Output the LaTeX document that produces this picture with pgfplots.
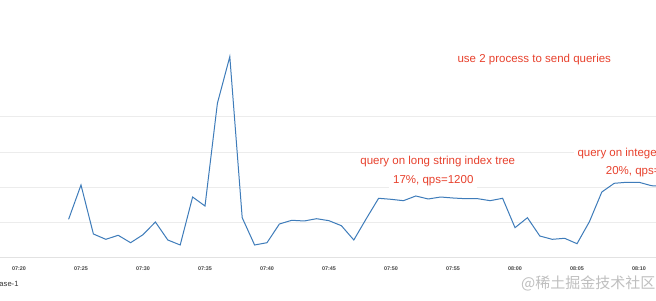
\documentclass[border=0pt]{standalone}
\usepackage{pgfplots}
\pgfplotsset{compat=1.18}
\usepackage{fontspec}
\setmainfont{Liberation Sans}
\newfontfamily\cjk{Noto Sans CJK SC}
\definecolor{ann}{RGB}{232,66,46}
\definecolor{ser}{RGB}{62,124,186}
\definecolor{grd}{RGB}{236,236,236}
\definecolor{basec}{RGB}{226,226,226}
\definecolor{tickc}{RGB}{70,70,70}
\begin{document}
\begin{tikzpicture}[x=1pt,y=1pt]
\path[use as bounding box] (0,0) rectangle (656,300);
\clip (0,0) rectangle (656,300);
\fill[white] (0,0) rectangle (656,300);
\begin{axis}[
  at={(0pt,42pt)}, anchor=south west, scale only axis,
  width=656pt, height=258pt,
  xmin=-1.532, xmax=51.37, ymin=0, ymax=7.319,
  axis line style={draw=none},
  major tick length=0,
  ytick={1,2,3,4}, yticklabels={},
  ymajorgrids, grid style={grd, line width=1pt},
  xtick={0,5,...,50},
  xticklabels={07:20,07:25,07:30,07:35,07:40,07:45,07:50,07:55,08:00,08:05,08:10},
  xticklabel style={anchor=center, yshift=-11pt, font=\fontsize{5.4}{6}\selectfont\bfseries, text=tickc},
]
\draw[basec, line width=2pt] (axis cs:-3,0) -- (axis cs:53,0);
\addplot[ser, line width=1pt, mark=none] coordinates {
(4,1.098) (5,2.071) (6,0.681) (7,0.530) (8,0.644) (9,0.434) (10,0.661)
(11,1.021) (12,0.511) (13,0.369) (14,1.730) (15,1.475) (16,4.389) (17,5.711)
(18,1.143) (19,0.369) (20,0.434) (21,0.965) (22,1.070) (23,1.050) (24,1.115)
(25,1.058) (26,0.916) (27,0.511) (28,1.112) (29,1.694) (30,1.665) (31,1.626)
(32,1.759) (33,1.674) (34,1.730) (35,1.702) (36,1.682) (37,1.682) (38,1.626)
(39,1.694) (40,0.860) (41,1.143) (42,0.624) (43,0.530) (44,0.559) (45,0.406)
(46,1.030) (47,1.872) (48,2.119) (49,2.148) (50,2.148) (51,2.051) (52,2.030)
};
\end{axis}
\begin{scope}[every node/.style={text=ann, font=\fontsize{11.5}{13}\selectfont, fill=white, inner sep=4pt}]
\node[anchor=base] at (534.3,237.3) {use 2 process to send queries};
\node[anchor=base] at (437.8,135) {query on long string index tree};
\node[anchor=base] at (433.3,116.7) {17\%, qps=1200};
\node[anchor=base west] at (573.3,143.3) {query on integer index tree};
\node[anchor=base west] at (601.7,125) {20\%, qps=1400};
\end{scope}
\node[anchor=base east, inner sep=0, font=\fontsize{7.6}{8}\selectfont, text=black!80] at (18.7,14) {base-1};
\node[anchor=west, inner sep=0, font=\cjk\fontsize{15}{16}\selectfont, text=black!25] at (521,17) {@稀土掘金技术社区};
\end{tikzpicture}
\end{document}
